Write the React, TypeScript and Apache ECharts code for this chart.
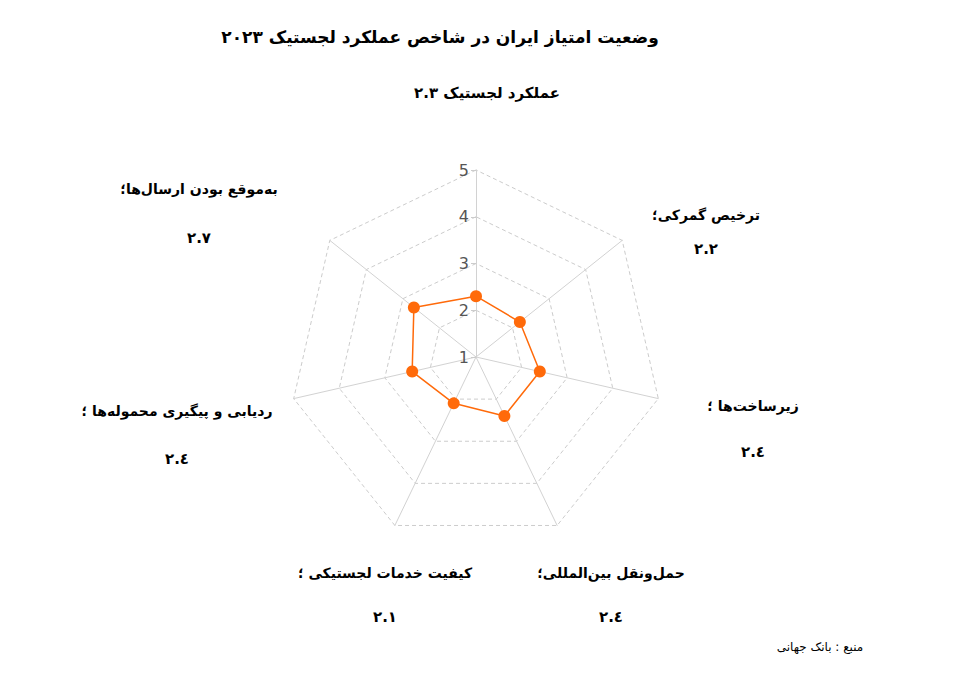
import React, { useEffect, useRef } from "react";
import * as echarts from "echarts";

const TITLE = "وضعیت امتیاز ایران در شاخص عملکرد لجستیک ٢٠٢٣";
const SOURCE = "منبع : بانک جهانی";
const indicatorNames = [
  "عملکرد لجستیک",
  "به‌موقع بودن ارسال‌ها؛",
  "ردیابی و پیگیری محموله‌ها ؛",
  "کیفیت خدمات لجستیکی ؛",
  "حمل‌ونقل بین‌المللی؛",
  "زیرساخت‌ها ؛",
  "ترخیص گمرکی؛",
];
const scores = [2.3, 2.7, 2.4, 2.1, 2.4, 2.4, 2.2];
const axisMin = 1;
const axisMax = 5;

const toArabicDigits = (v: number) =>
  String(v).replace(/\d/g, (d) => "٠١٢٣٤٥٦٧٨٩"[Number(d)]);

// label layout (positions of the indicator captions), index matches indicatorNames
const labelLayout = [
  { x: 487, yName: 93, yVal: null },
  { x: 199, yName: 189, yVal: 238 },
  { x: 177, yName: 411, yVal: 459 },
  { x: 385, yName: 573, yVal: 617 },
  { x: 611, yName: 573, yVal: 617 },
  { x: 753, yName: 406, yVal: 452 },
  { x: 706, yName: 215, yVal: 249 },
];

const FONT = "DejaVu Sans";

export default function App() {
  const ref = useRef<HTMLDivElement>(null);
  useEffect(() => {
    if (!ref.current) return;
    const chart = echarts.init(ref.current, null, { renderer: "svg" });
    const texts: any[] = [];
    const mk = (x: number, y: number, text: string, font: string) => ({
      type: "text",
      x,
      y,
      style: { text, font, fill: "#000", align: "center", verticalAlign: "middle" },
    });
    indicatorNames.forEach((n, i) => {
      const l = labelLayout[i];
      if (l.yVal === null) {
        texts.push(mk(l.x, l.yName, n + " " + toArabicDigits(scores[i]), `bold 15px "${FONT}"`));
      } else {
        texts.push(mk(l.x, l.yName, n, `bold 14px "${FONT}"`));
        texts.push(mk(l.x, l.yVal, toArabicDigits(scores[i]), `bold 15px "${FONT}"`));
      }
    });
    texts.push(mk(440, 37, TITLE, `bold 17px "${FONT}"`));
    texts.push(mk(820, 647, SOURCE, `12px "${FONT}"`));

    chart.setOption({
      animation: false,
      backgroundColor: "#fff",
      radar: {
        center: [476, 357],
        radius: 187,
        startAngle: 90,
        splitNumber: 4,
        shape: "polygon",
        indicator: indicatorNames.map((n, i) => ({
          name: n,
          min: axisMin,
          max: axisMax,
          ...(i === 0
            ? { axisLabel: { show: true }, axisTick: { show: true } }
            : {}),
        })),
        axisName: { show: false },
        splitLine: { lineStyle: { color: "#cccccc", type: [4, 3], width: 1 } },
        splitArea: { show: false },
        axisLine: { lineStyle: { color: "#d2d2d2", width: 1 } },
        axisTick: { show: false, length: 5, lineStyle: { color: "#cccccc" } },
        axisLabel: {
          show: false,
          color: "#555",
          fontSize: 16,
          fontFamily: FONT,
          margin: 7,
        },
      },
      graphic: texts,
      series: [
        {
          type: "radar",
          symbol: "circle",
          symbolSize: 12,
          lineStyle: { color: "#ff6a0a", width: 1.5 },
          itemStyle: { color: "#ff6a0a" },
          data: [{ value: scores, name: "Iran" }],
        },
      ],
    });
    return () => chart.dispose();
  }, []);
  return (
    <div
      ref={ref}
      style={{ position: "fixed", left: 0, top: 0, width: 959, height: 673 }}
    />
  );
}
